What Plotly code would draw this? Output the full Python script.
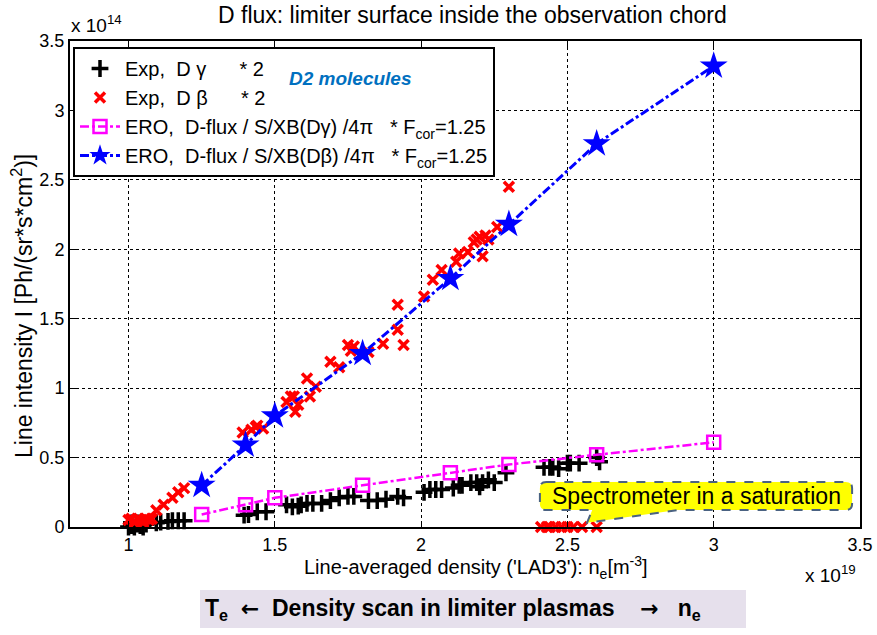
import plotly.graph_objects as go

# ---------------- data (x in 1e19 m^-3, y in 1e14 Ph/(sr*s*cm^2)) ----------------
exp_dg_x = [1.00, 1.01, 1.02, 1.03, 1.04, 1.05, 1.01, 1.03, 1.06,
            1.095, 1.11, 1.135, 1.15, 1.17, 1.19,
            1.395, 1.41, 1.44, 1.47,
            1.54, 1.56, 1.58, 1.59, 1.61, 1.63, 1.66,
            1.69, 1.72, 1.75, 1.77,
            1.82, 1.85, 1.88, 1.92, 1.94,
            2.01, 2.03, 2.05, 2.07, 2.11, 2.13, 2.14, 2.17, 2.19, 2.20, 2.21, 2.23, 2.25,
            2.29,
            2.42, 2.44, 2.45, 2.47, 2.50, 2.51, 2.54,
            2.60, 2.61]
exp_dg_y = [0.00, 0.01, 0.00, 0.02, 0.01, 0.00, 0.03, 0.03, 0.02,
            0.03, 0.035, 0.04, 0.045, 0.045, 0.045,
            0.085, 0.09, 0.11, 0.11,
            0.16, 0.145, 0.15, 0.16, 0.17, 0.17, 0.17,
            0.19, 0.21, 0.22, 0.22,
            0.19, 0.19, 0.20, 0.22, 0.21,
            0.25, 0.27, 0.27, 0.27, 0.28, 0.30, 0.30, 0.32, 0.32, 0.29, 0.32, 0.34, 0.32,
            0.39,
            0.43, 0.43, 0.43, 0.42, 0.46, 0.46, 0.46,
            0.50, 0.47]

exp_db_x = [1.00, 1.01, 1.02, 1.03, 1.04, 1.05, 1.06, 1.07, 1.08, 1.02, 1.05,
            1.095, 1.12, 1.15, 1.17, 1.19,
            1.39, 1.42, 1.435, 1.44, 1.46,
            1.54, 1.555, 1.565, 1.57, 1.58,
            1.61, 1.62, 1.64,
            1.69, 1.72,
            1.75, 1.76, 1.77, 1.82,
            1.87,
            1.92, 1.92, 1.94,
            2.01, 2.04, 2.07, 2.12, 2.13, 2.16, 2.18, 2.19, 2.20, 2.21, 2.22, 2.23, 2.26,
            2.30,
            2.41, 2.43, 2.44, 2.46, 2.48, 2.50, 2.52, 2.55, 2.60]
exp_db_y = [0.05, 0.06, 0.04, 0.06, 0.05, 0.04, 0.06, 0.05, 0.06, 0.03, 0.03,
            0.12, 0.16, 0.21, 0.25, 0.28,
            0.68, 0.70, 0.72, 0.73, 0.71,
            0.90, 0.94, 0.94, 0.83, 0.88,
            1.07, 0.94, 1.01,
            1.19, 1.15,
            1.31, 1.27, 1.30, 1.26,
            1.32,
            1.60, 1.42, 1.31,
            1.66, 1.78, 1.85, 1.91, 1.97, 1.98, 2.05, 2.07, 2.09, 1.95, 2.10, 2.07, 2.16,
            2.45,
            0.0, 0.0, 0.0, 0.0, 0.0, 0.0, 0.0, 0.0, 0.0]

ero_x = [1.25, 1.4, 1.5, 1.8, 2.1, 2.3, 2.6, 3.0]
ero_dg = [0.09, 0.16, 0.21, 0.30, 0.39, 0.45, 0.52, 0.61]
ero_db = [0.30, 0.59, 0.80, 1.25, 1.79, 2.18, 2.76, 3.32]

x_ticks = [1, 1.5, 2, 2.5, 3, 3.5]
y_ticks = [0, 0.5, 1, 1.5, 2, 2.5, 3, 3.5]

NB = "\u00a0"
FONT = "Liberation Sans, Arial, sans-serif"

fig = go.Figure()

fig.add_trace(go.Scatter(
    x=exp_dg_x, y=exp_dg_y, mode="markers",
    name="Exp," + NB * 2 + "D" + NB + "γ" + NB * 6 + "* 2",
    marker=dict(symbol="cross-thin", size=12, color="black",
                line=dict(color="black", width=3.5)),
    cliponaxis=False))
fig.add_trace(go.Scatter(
    x=exp_db_x, y=exp_db_y, mode="markers",
    name="Exp," + NB * 2 + "D" + NB + "β" + NB * 6 + "* 2",
    marker=dict(symbol="x-thin", size=10, color="red",
                line=dict(color="red", width=3.5)),
    cliponaxis=False))
fig.add_trace(go.Scatter(
    x=ero_x, y=ero_dg, mode="lines+markers",
    name="ERO," + NB * 2 + "D-flux / S/XB(Dγ) /4π" + NB * 3 + "* F<sub>cor</sub>=1.25",
    line=dict(color="#FF00FF", width=2.5, dash="dashdot"),
    marker=dict(symbol="square-open", size=13, color="#FF00FF",
                line=dict(color="#FF00FF", width=2.5)),
    cliponaxis=False))
fig.add_trace(go.Scatter(
    x=ero_x, y=ero_db, mode="lines+markers",
    name="ERO," + NB * 2 + "D-flux / S/XB(Dβ) /4π" + NB * 3 + "* F<sub>cor</sub>=1.25",
    line=dict(color="#0000FF", width=3, dash="dashdot"),
    marker=dict(symbol="star", size=21, color="#0000FF",
                line=dict(color="#0000FF", width=0)),
    cliponaxis=False))

# plot area in pixels
L, R, T, B = 70, 860, 41, 527
W, H = R - L, B - T


def px(xp, yp):
    return (xp - L) / W, (B - yp) / H


shapes = []
annotations = []


def label(xp, yp, text, size, xanchor="center", angle=0, color="black"):
    ax, ay = px(xp, yp)
    annotations.append(dict(x=ax, y=ay, xref="paper", yref="paper",
                            xanchor=xanchor, yanchor="middle", textangle=angle,
                            text=text, showarrow=False,
                            font=dict(family=FONT, size=size, color=color)))


# callout bubble (data coordinates)
x0, x1, y0, y1 = 2.406, 3.473, 0.122, 0.324
rx, ry = 0.022, 0.045
tb0, tb1, tipx, tipy = 2.585, 2.875, 2.567, 0.03
path = (f"M {x0+rx},{y1} L {x1-rx},{y1} Q {x1},{y1} {x1},{y1-ry} "
        f"L {x1},{y0+ry} Q {x1},{y0} {x1-rx},{y0} "
        f"L {tb1},{y0} L {tipx},{tipy} L {tb0},{y0} "
        f"L {x0+rx},{y0} Q {x0},{y0} {x0},{y0+ry} "
        f"L {x0},{y1-ry} Q {x0},{y1} {x0+rx},{y1} Z")
shapes.append(dict(type="path", xref="x", yref="y", path=path,
                   fillcolor="#FFFF00", line=dict(color="#4A6282", width=2, dash="dash"),
                   layer="above"))
annotations.append(dict(x=(x0 + x1) / 2, y=(y0 + y1) / 2, xref="x", yref="y",
                        xanchor="center", yanchor="middle",
                        text="Spectrometer in a saturation", showarrow=False,
                        font=dict(family=FONT, size=23, color="black")))

# blue brace for D2 molecules (pixel -> paper)
top, bot, mid = 54, 102, 78
xe, xs, xp_ = 269, 276, 283
P = lambda a, b: "%f,%f" % px(a, b)
brace = (f"M {P(xe, top)} Q {P(xs, top)} {P(xs, top + 7)} "
         f"L {P(xs, mid - 6)} Q {P(xs, mid)} {P(xp_, mid)} "
         f"Q {P(xs, mid)} {P(xs, mid + 6)} "
         f"L {P(xs, bot - 7)} Q {P(xs, bot)} {P(xe, bot)}")
shapes.append(dict(type="path", xref="paper", yref="paper", path=brace,
                   line=dict(color="#0070C0", width=2.5), layer="above"))
label(287, 79, "<b><i>D2 molecules</i></b>", 19, xanchor="left", color="#0070C0")

# bottom banner
bx0, by0 = px(200, 590)
bx1, by1 = px(746, 628)
shapes.append(dict(type="rect", xref="paper", yref="paper", x0=bx0, x1=bx1, y0=by1, y1=by0,
                   fillcolor="#E6E0EC", line=dict(width=0), layer="below"))
ARW = '<span style="font-family:DejaVu Sans;font-size:22px">%s</span>'
label(203, 609, "<b>T<sub>e</sub>" + NB * 2 + ARW % "←" + NB * 2 + "Density scan in limiter plasmas"
      + NB * 4 + ARW % "→" + NB * 3 + "n<sub>e</sub></b>", 23, xanchor="left")

# exponent labels
label(69, 24, "x 10<sup>14</sup>", 19, xanchor="left")
label(803, 574, "x 10<sup>19</sup>", 19, xanchor="left")

# title and axis titles
label(472, 15, "D flux: limiter surface inside the observation chord", 23)
label(476, 567, "Line-averaged density ('LAD3'): n<sub>e</sub>[m<sup>-3</sup>]", 20)
label(22, 306, "Line intensity I [Ph/(sr*s*cm<sup>2</sup>)]", 23, angle=-90)

lx, ly = px(73, 47)
fig.update_layout(
    width=877, height=635,
    margin=dict(l=L, r=877 - R, t=T, b=635 - B),
    paper_bgcolor="white", plot_bgcolor="white",
    font=dict(family=FONT, size=18, color="black"),
    showlegend=True,
    legend=dict(x=lx, y=ly, xanchor="left", yanchor="top",
                bgcolor="white", bordercolor="black", borderwidth=2,
                font=dict(family=FONT, size=20, color="black"),
                tracegroupgap=0, itemwidth=40),
    xaxis=dict(range=[0.8, 3.5], tickvals=x_ticks, ticktext=[f"{v:g}" for v in x_ticks],
               showgrid=True, gridcolor="black", griddash="dot", gridwidth=1,
               showline=True, linecolor="black", linewidth=2, mirror="ticks",
               ticks="inside", ticklen=6, tickcolor="black", zeroline=False,
               tickfont=dict(family=FONT, size=18, color="black"), automargin=False),
    yaxis=dict(range=[0, 3.5], tickvals=y_ticks, ticktext=[f"{v:g}" for v in y_ticks],
               showgrid=True, gridcolor="black", griddash="dot", gridwidth=1,
               showline=True, linecolor="black", linewidth=2, mirror="ticks",
               ticks="inside", ticklen=6, tickcolor="black", zeroline=False,
               tickfont=dict(family=FONT, size=18, color="black"), automargin=False),
    shapes=shapes, annotations=annotations,
    hovermode=False,
)

fig.write_html("out.html", config={"displayModeBar": False},
               post_script="document.body.style.margin='0px';")
